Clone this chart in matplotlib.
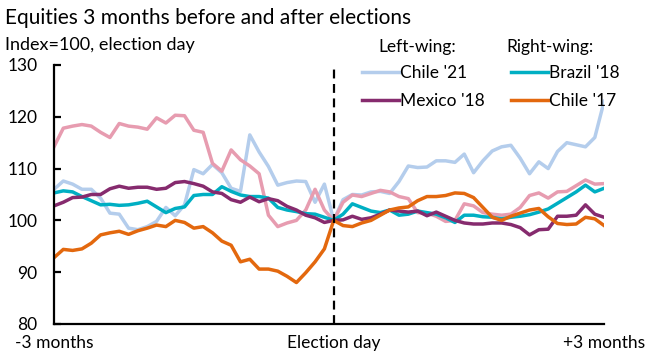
import numpy as np
import matplotlib
matplotlib.use("Agg")
import matplotlib.pyplot as plt

plt.rcParams['font.family'] = ['Lato', 'DejaVu Sans']

# trading window: 3 months either side of the vote, sampled every 3 days
days = np.arange(-90, 90, 3)

chile_21 = [106, 107.6, 107, 106, 106, 104.3, 101.4, 101.2, 98.5, 98.2,
            98.8, 99.8, 102.5, 100.9, 103, 109.8, 109, 110.8, 109.2, 106.2,
            105.6, 116.5, 113.2, 110.4, 106.8, 107.3, 107.6, 107.5, 103.5, 107,
            100, 104, 105, 104.9, 105.5, 105.6, 105.2, 107.5, 110.5, 110.2,
            110.3, 111.5, 111.5, 111.2, 112.8, 109.2, 111.5, 113.4, 114.2, 114.5,
            112, 109, 111.3, 110, 113.3, 115, 114.6, 114.2, 116, 123]

brazil_18 = [105.3, 105.7, 105.5, 104.6, 103.8, 103, 103.1, 102.9, 103, 103.3,
             103.7, 102.6, 101.5, 102.3, 102.6, 104.8, 105, 105, 106.5, 105.6,
             104.9, 104.6, 104.6, 104.3, 102.5, 102, 101.7, 101.3, 101.2, 100.6,
             100, 101.2, 103.2, 102.5, 101.8, 101.5, 102, 101, 101.2, 101.8,
             101.5, 101.2, 100.5, 99.6, 101, 101, 100.7, 100.6, 100.3, 100.6,
             100.8, 101.1, 101.6, 102.2, 103.3, 104.4, 105.5, 106.8, 105.5, 106.2]

mexico_18 = [102.8, 103.5, 104.4, 104.5, 105, 105, 106.1, 106.6, 106.2, 106.4,
             106.4, 106, 106.2, 107.3, 107.5, 107.1, 106.6, 105.5, 105.2, 104,
             103.5, 104.5, 103.6, 104.2, 103.8, 102.7, 102, 101, 100.5, 99.6,
             100, 100.1, 100.8, 100.2, 100.5, 101.2, 102, 101.8, 101.6, 101.8,
             100.9, 101.6, 100.8, 100, 99.5, 99.3, 99.3, 99.5, 99.5, 99.2,
             98.6, 97.2, 98.2, 98.3, 100.8, 100.8, 101, 103, 101.2, 100.6]

chile_17 = [92.8, 94.4, 94.2, 94.5, 95.6, 97.2, 97.6, 97.9, 97.3, 98,
            98.5, 99.1, 98.8, 100, 99.6, 98.5, 98.8, 97.6, 96, 95.2,
            92, 92.5, 90.6, 90.6, 90.2, 89.2, 88, 89.9, 92, 94.5,
            100, 99, 98.8, 99.5, 100, 101, 102, 102.4, 102.6, 103.8,
            104.6, 104.6, 104.8, 105.3, 105.2, 104.4, 102.5, 100.6, 100, 100.8,
            101.4, 102, 102.3, 100.7, 99.4, 99.2, 99.3, 100.6, 100.3, 99]

# fifth episode, plotted without a legend entry
other = [114.2, 117.8, 118.2, 118.5, 118.2, 117, 116, 118.7, 118.2, 118,
         117.6, 119.8, 118.8, 120.3, 120.2, 117.4, 117, 111, 109.5, 113.6,
         111.7, 110.5, 109, 101, 98.8, 99.5, 100, 102, 106, 102,
         100, 103.5, 104.9, 104.6, 105.2, 105.8, 105.5, 104.6, 104.2, 101.5,
         101.4, 100.8, 99.8, 100, 103.2, 102.8, 101.5, 101.2, 101, 101.2,
         102.5, 104.8, 105.3, 104.3, 105.5, 105.6, 106.7, 107.8, 107, 107.1]

x_ticks = [-90, 0, 87]
x_labels = ['-3 months', 'Election day', '+3 months']

fig = plt.figure(figsize=(6.48, 3.58), dpi=100)
ax = fig.add_axes([0.0833, 0.095, 0.849, 0.7235])

lw = 2.5
ax.plot(days, chile_21, color='#B4CDEC', lw=lw, label="Chile '21")
ax.plot(days, other, color='#E79CB0', lw=lw)
ax.plot(days, brazil_18, color='#00AFC3', lw=lw, label="Brazil '18")
ax.plot(days, mexico_18, color='#862B6E', lw=lw, label="Mexico '18")
ax.plot(days, chile_17, color='#E3680E', lw=lw, label="Chile '17")

ax.axvline(0, color='black', lw=1.6, ls=(0, (4, 2.5)))

ax.set_xlim(-90, 87)
ax.set_ylim(80, 130)
ax.set_yticks(range(80, 131, 10))
ax.set_xticks(x_ticks)
ax.set_xticklabels(x_labels)

for s in ['top', 'right']:
    ax.spines[s].set_visible(False)
for s in ['left', 'bottom']:
    ax.spines[s].set_linewidth(1.6)
fs = 12.5
ax.tick_params(axis='y', direction='in', length=5, width=1.6, pad=12, labelsize=fs)
ax.tick_params(axis='x', length=0, pad=8, labelsize=fs)

h, l = ax.get_legend_handles_labels()
order = [0, 2, 1, 3]
ax.legend([h[i] for i in order], [l[i] for i in order], ncol=2, frameon=False,
          loc='upper left', bbox_to_anchor=(0.56, 1.0), fontsize=fs,
          handlelength=2.1, handletextpad=0.1, columnspacing=1.5,
          labelspacing=0.7, borderpad=0, borderaxespad=0)

fig.text(0.644, 0.869, 'Left-wing:', fontsize=fs, ha='center', va='center')
fig.text(0.849, 0.869, 'Right-wing:', fontsize=fs, ha='center', va='center')

fig.text(0.008, 0.95, 'Equities 3 months before and after elections', fontsize=15, va='center')
fig.text(0.008, 0.874, 'Index=100, election day', fontsize=13, va='center')

fig.savefig('out.png', dpi=100)
